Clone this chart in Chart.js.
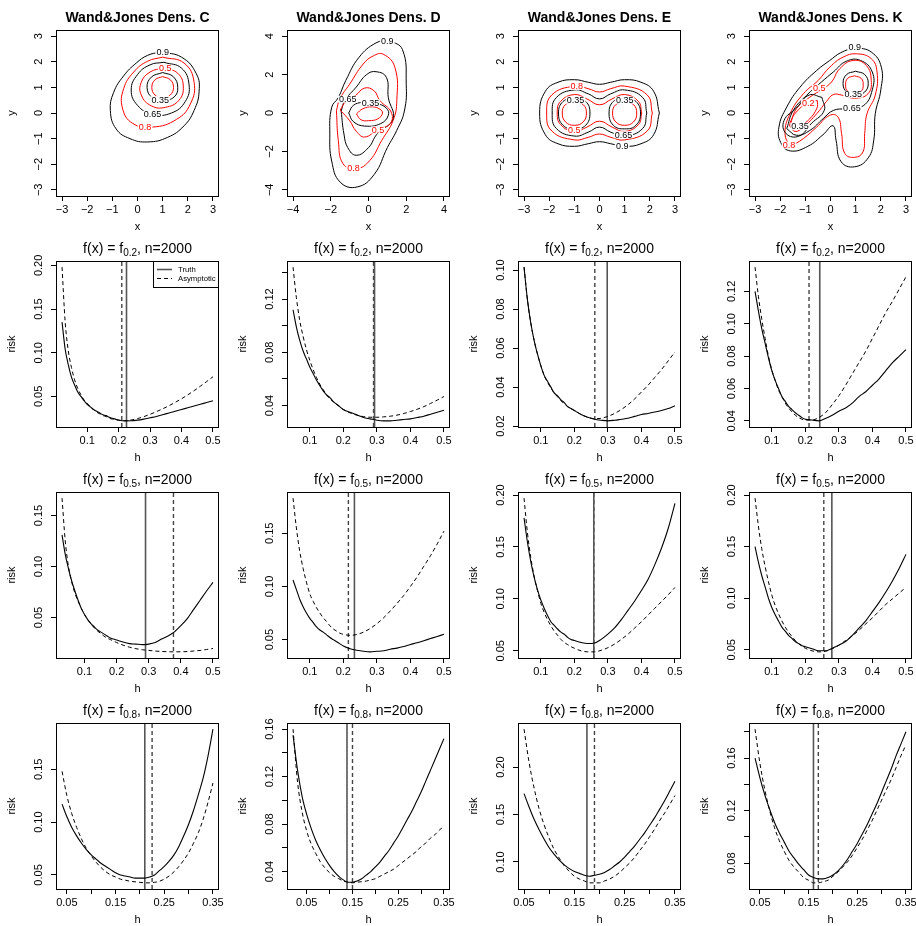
<!DOCTYPE html>
<html>
<head>
<meta charset="utf-8">
<title>Wand&amp;Jones densities: risk against bandwidth</title>
<script src="https://cdn.jsdelivr.net/npm/chart.js@4.4.0/dist/chart.umd.min.js"></script>
<style>
  html, body { margin: 0; padding: 0; background: #fff; }
  #grid { position: relative; width: 916px; height: 926px; overflow: hidden; }
  #grid canvas { position: absolute; }
</style>
</head>
<body>
<div id="grid"></div>
<script>
// ---- contour lines of the four test densities (x, y points) ----
const C_20 = [[1.0,1.42],[1.3,1.3],[1.43,1.0],[1.3,0.7],[1.0,0.58],[0.7,0.7],[0.57,1.0],[0.7,1.3]];
const C_35 = [[1.0,1.58],[1.42,1.42],[1.6,1.0],[1.45,0.62],[1.0,0.5],[0.58,0.6],[0.38,1.0],[0.55,1.4]];
const C_50 = [[1.05,1.76],[1.6,1.55],[1.82,1.05],[1.65,0.5],[1.1,0.22],[0.55,0.28],[0.15,0.7],[0.15,1.2],[0.5,1.6]];
const C_65 = [[1.05,1.98],[1.75,1.75],[2.05,1.1],[1.9,0.45],[1.35,0.0],[0.6,-0.05],[0.0,0.3],[-0.25,0.9],[0.0,1.5],[0.5,1.88]];
const C_80 = [[1.0,2.18],[1.85,1.95],[2.25,1.2],[2.1,0.35],[1.55,-0.25],[0.6,-0.55],[-0.2,-0.4],[-0.6,0.2],[-0.55,0.95],[-0.15,1.6],[0.4,2.02]];
const C_90 = [[0.9,2.38],[1.75,2.18],[2.34,1.53],[2.45,0.85],[2.25,0.1],[1.85,-0.5],[1.2,-0.95],[0.4,-1.13],[-0.3,-1.0],[-0.85,-0.62],[-1.08,0.1],[-0.95,0.8],[-0.55,1.45],[-0.05,1.95],[0.4,2.25]];
const C_labels = [['0.9',1.0,2.38],['0.5',1.1,1.74],['0.35',0.9,0.52],['0.65',0.6,-0.05],['0.8',0.3,-0.53]];

const D_20 = [[-0.64,-0.05],[-0.3,0.22],[0.2,0.32],[0.6,0.2],[0.74,0.0],[0.5,-0.3],[0.0,-0.4],[-0.4,-0.35]];
const D_35 = [[-1.05,0.0],[-0.8,0.4],[-0.3,0.55],[0.4,0.5],[0.95,0.25],[1.05,-0.12],[0.65,-0.55],[-0.2,-0.68],[-0.8,-0.45]];
const D_50 = [[-1.5,0.15],[-1.2,0.6],[-0.7,0.9],[-0.2,1.3],[0.3,1.15],[0.6,0.65],[1.2,0.05],[1.15,-0.55],[0.5,-0.85],[-0.2,-1.25],[-0.65,-0.95],[-1.0,-0.4]];
const D_65 = [[-1.45,0.1],[-1.25,0.65],[-0.65,1.35],[-0.1,2.0],[0.4,2.15],[0.95,1.85],[1.05,0.8],[1.3,-0.3],[0.45,-1.1],[0.0,-1.8],[-0.65,-2.2],[-1.1,-1.8],[-1.3,-1.1]];
const D_80 = [[-1.7,0.12],[-1.52,0.73],[-1.0,1.5],[-0.28,2.55],[0.25,2.97],[0.78,3.06],[1.4,2.37],[1.5,0.64],[1.3,-0.4],[0.7,-1.43],[0.07,-2.47],[-0.64,-2.9],[-1.35,-2.64],[-1.6,-1.43]];
const D_90 = [[1.1,3.8],[1.8,3.3],[2.0,1.5],[1.9,0.1],[1.5,-0.9],[1.0,-1.8],[0.3,-3.2],[-0.6,-3.85],[-1.5,-3.6],[-1.95,-2.5],[-2.05,-1.1],[-1.95,0.3],[-1.6,0.8],[-1.2,1.7],[-0.5,2.9],[0.4,3.65]];
const D_labels = [['0.9',1.0,3.73],['0.8',-0.8,-2.88],['0.65',-1.1,0.72],['0.35',0.1,0.53],['0.5',0.5,-0.88]];

const E_20a = [[1.0,0.45],[1.35,0.33],[1.48,0.0],[1.35,-0.35],[1.0,-0.48],[0.65,-0.35],[0.52,0.0],[0.65,0.33]];
const E_20b = [[-1.0,0.45],[-1.35,0.33],[-1.48,0.0],[-1.35,-0.35],[-1.0,-0.48],[-0.65,-0.35],[-0.52,0.0],[-0.65,0.33]];
const E_35a = [[1.0,0.58],[1.45,0.45],[1.63,0.0],[1.45,-0.48],[1.0,-0.62],[0.55,-0.48],[0.38,0.0],[0.55,0.45]];
const E_35b = [[-1.0,0.58],[-1.45,0.45],[-1.63,0.0],[-1.45,-0.48],[-1.0,-0.62],[-0.55,-0.48],[-0.38,0.0],[-0.55,0.45]];
const E_50 = [[1.68,0.0],[1.55,0.45],[1.0,0.72],[0.5,0.55],[0.0,0.32],[-0.5,0.55],[-1.0,0.72],[-1.55,0.45],[-1.68,0.0],[-1.55,-0.45],[-1.0,-0.72],[-0.5,-0.55],[0.0,-0.32],[0.5,-0.55],[1.0,-0.72],[1.55,-0.45]];
const E_65 = [[1.88,0.0],[1.72,0.6],[1.0,0.9],[0.45,0.75],[0.0,0.55],[-0.45,0.75],[-1.0,0.9],[-1.72,0.6],[-1.88,0.0],[-1.72,-0.6],[-1.0,-0.9],[-0.45,-0.75],[0.0,-0.55],[0.45,-0.75],[1.0,-0.9],[1.72,-0.6]];
const E_80 = [[2.1,0.0],[1.9,0.7],[1.0,1.05],[0.45,0.95],[0.0,0.82],[-0.45,0.95],[-1.0,1.05],[-1.9,0.7],[-2.1,0.0],[-1.9,-0.7],[-1.0,-1.05],[-0.45,-0.95],[0.0,-0.82],[0.45,-0.95],[1.0,-1.05],[1.9,-0.7]];
const E_90 = [[2.38,0.0],[2.15,0.85],[1.65,1.2],[1.0,1.3],[0.45,1.2],[0.0,1.12],[-0.45,1.2],[-1.0,1.3],[-1.65,1.2],[-2.15,0.85],[-2.38,0.0],[-2.15,-0.85],[-1.65,-1.2],[-1.0,-1.3],[-0.45,-1.2],[0.0,-1.12],[0.45,-1.2],[1.0,-1.3],[1.65,-1.2],[2.15,-0.85]];
const E_labels = [['0.8',-0.9,1.04],['0.35',-0.95,0.5],['0.35',1.0,0.5],['0.5',-1.0,-0.68],['0.65',0.95,-0.85],['0.9',0.9,-1.3]];

const K_20a = [[0.95,1.45],[1.22,1.35],[1.3,1.1],[1.22,0.85],[0.95,0.75],[0.68,0.85],[0.6,1.1],[0.68,1.35]];
const K_20b = [[-0.52,0.48],[-0.82,0.47],[-1.25,0.15],[-1.57,-0.29],[-1.58,-0.58],[-1.29,-0.57],[-0.85,-0.25],[-0.54,0.19]];
const K_35a = [[1.0,1.63],[1.36,1.5],[1.5,1.15],[1.36,0.82],[1.0,0.68],[0.64,0.82],[0.5,1.15],[0.64,1.5]];
const K_35b = [[-0.34,0.61],[-0.85,0.7],[-1.35,0.2],[-1.85,-0.3],[-1.76,-0.81],[-1.25,-0.9],[-0.75,-0.4],[-0.25,0.1]];
const K_50 = [[-1.61,-0.48],[-1.35,0.17],[-0.82,0.62],[-0.29,0.95],[0.04,1.21],[0.37,1.73],[0.9,2.05],[1.42,1.86],[1.62,1.27],[1.49,0.75],[0.96,0.58],[0.44,0.7],[0.11,0.72],[-0.16,0.45],[-0.55,-0.03],[-1.08,-0.55],[-1.41,-0.72]];
const K_65 = [[-1.74,-0.61],[-1.48,0.1],[-0.95,0.69],[-0.36,1.21],[0.11,1.6],[0.63,2.02],[1.2,2.05],[1.66,1.6],[1.66,0.9],[1.3,0.28],[0.63,0.17],[0.11,0.1],[-0.29,-0.22],[-0.82,-0.68],[-1.35,-0.87]];
const K_80 = [[-1.61,-1.32],[-1.81,-0.8],[-1.61,-0.03],[-1.08,0.75],[-0.49,1.27],[-0.03,1.79],[0.5,2.18],[1.03,2.31],[1.62,2.12],[1.85,1.6],[1.78,0.7],[1.45,-0.03],[1.36,-0.8],[1.29,-1.52],[0.96,-1.73],[0.57,-1.58],[0.44,-0.8],[0.3,-0.16],[-0.03,-0.09],[-0.55,-0.55],[-1.08,-1.0]];
const K_90 = [[0.96,2.57],[1.62,2.38],[2.02,1.79],[2.0,0.9],[1.78,-0.03],[1.72,-1.06],[1.5,-1.75],[0.96,-2.1],[0.42,-1.9],[0.22,-1.06],[0.1,-0.5],[-0.3,-0.85],[-0.9,-1.3],[-1.6,-1.48],[-1.98,-1.15],[-2.05,-0.55],[-1.74,0.23],[-1.21,1.01],[-0.55,1.66],[-0.03,2.05],[0.4,2.35]];
const K_labels = [['0.9',0.96,2.57],['0.5',-0.45,0.97],['0.2',-0.88,0.4],['0.35',0.9,0.73],['0.35',-1.21,-0.52],['0.65',0.85,0.18],['0.8',-1.65,-1.25]];

// ---- bandwidth grids ----
const hGridA = [0.05,0.06,0.07,0.08,0.09,0.10,0.11,0.12,0.13,0.14,0.15,0.16,0.17,0.18,0.19,0.20,
                0.22,0.24,0.26,0.28,0.30,0.32,0.34,0.36,0.38,0.40,0.42,0.44,0.46,0.48,0.50];
const hGridB = [0.04,0.05,0.06,0.07,0.08,0.09,0.10,0.11,0.12,0.13,0.14,0.15,0.16,0.17,0.18,0.19,
                0.20,0.21,0.22,0.23,0.24,0.25,0.26,0.27,0.28,0.29,0.30,0.31,0.32,0.33,0.34,0.35];
const h_C02 = [0.02,0.03,0.04].concat(hGridA);
const h_C05 = [0.03,0.04].concat(hGridA);
const h_D08 = [0.02,0.03].concat(hGridB);
const h_E08 = hGridB.slice(1);

// ---- risk curves: truth (simulated) and asymptotic ----
const truth_C02 = [0.135,0.104,0.086, 0.072,0.063,0.055,0.050,0.045,0.041,0.038,0.035,0.033,0.031,0.029,0.028,0.026,0.025,0.024,0.023,
                   0.022,0.0221,0.0228,0.024,0.0255,0.027,0.029,0.031,0.033,0.035,0.037,0.039,0.041,0.043,0.045];
const asym_C02  = [0.198,0.135,0.102, 0.083,0.069,0.059,0.052,0.046,0.042,0.038,0.035,0.032,0.030,0.028,0.027,0.025,0.024,0.0232,0.0226,
                   0.0222,0.023,0.0246,0.0268,0.0295,0.0325,0.0358,0.0393,0.0432,0.0473,0.0518,0.0566,0.0617,0.067,0.0725];
const truth_D02 = [0.112,0.099,0.089,0.081,0.075,0.069,0.064,0.059,0.055,0.051,0.048,0.046,0.043,0.041,0.039,0.037,
                   0.035,0.033,0.031,0.030,0.029,0.0285,0.0285,0.029,0.0295,0.030,0.031,0.032,0.0335,0.035,0.0365];
const asym_D02  = [0.144,0.121,0.104,0.092,0.082,0.074,0.067,0.061,0.056,0.052,0.048,0.045,0.043,0.041,0.039,0.037,
                   0.0345,0.0328,0.0317,0.0312,0.0312,0.0315,0.032,0.0328,0.034,0.0355,0.0372,0.0392,0.0416,0.0441,0.0468];
const truth_E02 = [0.1015,0.085,0.073,0.064,0.057,0.051,0.046,0.043,0.040,0.037,0.0355,0.0335,0.032,0.030,0.029,0.028,
                   0.026,0.0245,0.0235,0.023,0.0227,0.023,0.0235,0.024,0.025,0.026,0.0265,0.0272,0.028,0.029,0.0305];
const asym_E02  = [0.1015,0.085,0.073,0.064,0.057,0.051,0.046,0.0425,0.0395,0.037,0.035,0.033,0.0315,0.030,0.029,0.028,
                   0.026,0.0245,0.0238,0.024,0.025,0.0265,0.0285,0.031,0.034,0.0375,0.041,0.045,0.049,0.0535,0.058];
const truth_K02 = [0.120,0.108,0.097,0.088,0.079,0.071,0.065,0.060,0.055,0.052,0.049,0.047,0.045,0.0435,0.042,0.041,
                   0.0405,0.040,0.0415,0.0435,0.046,0.048,0.051,0.055,0.058,0.062,0.066,0.071,0.076,0.080,0.084];
const asym_K02  = [0.135,0.117,0.103,0.091,0.080,0.0715,0.065,0.059,0.055,0.051,0.048,0.0455,0.0435,0.042,0.041,0.0405,
                   0.0405,0.042,0.045,0.050,0.0555,0.062,0.069,0.076,0.083,0.091,0.099,0.107,0.114,0.1215,0.129];

const truth_C05 = [0.131,0.112, 0.098,0.086,0.076,0.067,0.059,0.053,0.048,0.044,0.041,0.038,0.036,0.034,0.032,0.030,0.029,0.028,
                   0.026,0.0245,0.024,0.0235,0.024,0.0255,0.029,0.032,0.036,0.042,0.049,0.058,0.067,0.076,0.0845];
const asym_C05  = [0.167,0.125, 0.100,0.085,0.074,0.066,0.059,0.053,0.048,0.044,0.040,0.037,0.0345,0.032,0.030,0.0285,0.027,0.0255,
                   0.023,0.021,0.0195,0.0185,0.0178,0.0172,0.0168,0.0165,0.0164,0.0165,0.0167,0.0172,0.0178,0.0187,0.0197];
const truth_D05 = [0.106,0.097,0.088,0.081,0.075,0.070,0.066,0.062,0.059,0.057,0.0545,0.052,0.050,0.048,0.046,0.044,
                   0.0415,0.040,0.039,0.0385,0.039,0.0395,0.041,0.042,0.0435,0.0455,0.047,0.049,0.051,0.053,0.055];
const asym_D05  = [0.183,0.155,0.133,0.117,0.104,0.093,0.086,0.080,0.075,0.0705,0.067,0.063,0.060,0.058,0.056,0.055,
                   0.054,0.0548,0.057,0.0605,0.065,0.0705,0.077,0.084,0.0915,0.100,0.109,0.119,0.129,0.140,0.152];
const truth_E05 = [0.178,0.155,0.136,0.121,0.109,0.099,0.091,0.084,0.078,0.0745,0.071,0.068,0.066,0.063,0.061,0.060,
                   0.058,0.057,0.0575,0.061,0.066,0.072,0.080,0.089,0.098,0.108,0.119,0.133,0.149,0.168,0.192];
const asym_E05  = [0.197,0.164,0.140,0.122,0.108,0.096,0.087,0.080,0.074,0.069,0.065,0.061,0.058,0.056,0.054,0.0525,
                   0.050,0.049,0.049,0.0505,0.053,0.0565,0.061,0.066,0.072,0.078,0.0845,0.091,0.0975,0.104,0.111];
const truth_K05 = [0.150,0.135,0.122,0.111,0.100,0.091,0.084,0.078,0.072,0.068,0.064,0.061,0.058,0.056,0.054,0.053,
                   0.051,0.049,0.049,0.0515,0.0545,0.058,0.064,0.071,0.078,0.087,0.096,0.106,0.117,0.129,0.1425];
const asym_K05  = [0.197,0.170,0.148,0.131,0.116,0.103,0.093,0.085,0.078,0.072,0.067,0.063,0.059,0.056,0.0535,0.0515,
                   0.049,0.048,0.0485,0.051,0.0545,0.059,0.0635,0.069,0.075,0.081,0.0875,0.094,0.0995,0.105,0.1105];

const truth_C08 = [0.117,0.105,0.095,0.087,0.080,0.074,0.069,0.065,0.061,0.058,0.055,0.052,0.050,0.049,0.048,0.047,
                   0.047,0.047,0.048,0.050,0.054,0.058,0.063,0.069,0.077,0.087,0.098,0.111,0.126,0.142,0.163,0.188];
const asym_C08  = [0.148,0.125,0.108,0.095,0.084,0.075,0.068,0.062,0.057,0.053,0.050,0.048,0.046,0.045,0.044,0.0435,
                   0.043,0.0425,0.0425,0.043,0.044,0.046,0.049,0.053,0.058,0.064,0.071,0.080,0.090,0.103,0.119,0.137];
const truth_D08 = [0.155,0.125,0.103,0.088,0.076,0.066,0.058,0.051,0.045,0.040,0.036,0.033,0.031,0.031,0.032,0.034,0.037,
                   0.040,0.044,0.048,0.053,0.058,0.064,0.070,0.077,0.084,0.091,0.099,0.107,0.116,0.125,0.134,0.143,0.152];
const asym_D08  = [0.16,0.115,0.090,0.074,0.063,0.055,0.048,0.043,0.039,0.036,0.034,0.032,0.031,0.0305,0.031,0.0315,0.032,
                   0.033,0.034,0.036,0.038,0.040,0.042,0.045,0.048,0.051,0.054,0.057,0.061,0.064,0.068,0.071,0.075,0.078];
const truth_E08 = [0.172,0.158,0.145,0.134,0.124,0.115,0.108,0.102,0.097,0.093,0.090,0.088,0.086,0.085,0.086,0.087,
                   0.089,0.092,0.096,0.100,0.105,0.111,0.117,0.124,0.131,0.139,0.147,0.156,0.165,0.175,0.185];
const asym_E08  = [0.24,0.205,0.178,0.156,0.139,0.125,0.113,0.104,0.096,0.090,0.085,0.082,0.080,0.078,0.078,0.078,
                   0.080,0.082,0.085,0.089,0.094,0.099,0.105,0.112,0.119,0.127,0.135,0.144,0.152,0.161,0.17];
const truth_K08 = [0.16,0.145,0.132,0.121,0.111,0.103,0.096,0.089,0.084,0.079,0.075,0.071,0.069,0.068,0.068,0.069,
                   0.071,0.074,0.078,0.083,0.089,0.095,0.102,0.109,0.117,0.125,0.134,0.143,0.152,0.162,0.171,0.18];
const asym_K08  = [0.182,0.156,0.136,0.120,0.107,0.097,0.089,0.082,0.077,0.073,0.069,0.067,0.065,0.065,0.066,0.067,
                   0.070,0.073,0.077,0.081,0.086,0.092,0.098,0.105,0.112,0.12,0.128,0.136,0.144,0.153,0.162,0.17];

// optimal bandwidths [truth, asymptotic]
const hopt_C02 = [0.225, 0.21],  hopt_D02 = [0.293, 0.29],  hopt_E02 = [0.298, 0.261], hopt_K02 = [0.243, 0.211];
const hopt_C05 = [0.29, 0.377],  hopt_D05 = [0.233, 0.215], hopt_E05 = [0.258, 0.258], hopt_K05 = [0.279, 0.255];
const hopt_C08 = [0.21, 0.225],  hopt_D08 = [0.138, 0.15],  hopt_E08 = [0.175, 0.19],  hopt_K08 = [0.16, 0.17];

// ---- tick values and labels ----
const ticks3 = [-3,-2,-1,0,1,2,3];
const labels3 = ['\u22123','\u22122','\u22121','0','1','2','3'];
const ticks4 = [-4,-2,0,2,4];
const labels4 = ['\u22124','\u22122','0','2','4'];
const hTicksA = [0.1,0.2,0.3,0.4,0.5];
const hLabelsA = ['0.1','0.2','0.3','0.4','0.5'];
const hTicksB = [0.05,0.10,0.15,0.20,0.25,0.30,0.35];
const hLabelsB = ['0.05','','0.15','','0.25','','0.35'];
const rTicks_C02 = [0.05,0.10,0.15,0.20],  rLabels_C02 = ['0.05','0.10','0.15','0.20'];
const rTicks_D02 = [0.04,0.06,0.08,0.10,0.12,0.14], rLabels_D02 = ['0.04','','0.08','','0.12',''];
const rTicks_E02 = [0.02,0.04,0.06,0.08,0.10], rLabels_E02 = ['0.02','0.04','0.06','0.08','0.10'];
const rTicks_K02 = [0.04,0.06,0.08,0.10,0.12], rLabels_K02 = ['0.04','0.06','0.08','0.10','0.12'];
const rTicks_C05 = [0.05,0.10,0.15], rLabels_C05 = ['0.05','0.10','0.15'];
const rTicks_D05 = [0.05,0.10,0.15], rLabels_D05 = ['0.05','0.10','0.15'];
const rTicks_E05 = [0.05,0.10,0.15,0.20], rLabels_E05 = ['0.05','0.10','0.15','0.20'];
const rTicks_K05 = [0.05,0.10,0.15,0.20], rLabels_K05 = ['0.05','0.10','0.15','0.20'];
const rTicks_C08 = [0.05,0.10,0.15], rLabels_C08 = ['0.05','0.10','0.15'];
const rTicks_D08 = [0.04,0.06,0.08,0.10,0.12,0.14,0.16], rLabels_D08 = ['0.04','','0.08','','0.12','','0.16'];
const rTicks_E08 = [0.10,0.15,0.20], rLabels_E08 = ['0.10','0.15','0.20'];
const rTicks_K08 = [0.08,0.10,0.12,0.14,0.16,0.18], rLabels_K08 = ['0.08','','0.12','','0.16',''];

// ---------------------------------------------------------------------------
const FONT = "'Liberation Sans', Arial, Helvetica, sans-serif";
const AXIS_PX = 11;
const CELL = 231;
const BOX = { left: 56, right: 219, top: 30, bottom: 196 };
const RED_LEVELS = ['0.2', '0.5', '0.8'];
const grid = document.getElementById('grid');

Chart.defaults.font.family = FONT;
Chart.defaults.color = '#000';

const measureCtx = document.createElement('canvas').getContext('2d');
function textWidth(s, size) {
    measureCtx.font = size + 'px ' + FONT;
    return measureCtx.measureText(s).width;
}

// R style axis range: data range widened by 4% each side
function ext(values) {
    const lo = Math.min(...values), hi = Math.max(...values);
    const d = (hi - lo) * 0.04;
    return [lo - d, hi + d];
}

// box round the plot region
const framePlugin = {
    id: 'frame',
    afterDraw(chart) {
        const { ctx, chartArea: a } = chart;
        ctx.save();
        ctx.strokeStyle = '#000';
        ctx.lineWidth = 1;
        ctx.strokeRect(Math.round(a.left) + 0.5, Math.round(a.top) + 0.5,
            Math.round(a.right - a.left) - 1, Math.round(a.bottom - a.top));
        ctx.restore();
    }
};

// panel title, with an optional subscript
const titlePlugin = {
    id: 'panelTitle',
    afterDraw(chart, args, o) {
        if (!o || !o.text) return;
        const { ctx, chartArea: a } = chart;
        const cx = (a.left + a.right) / 2, y = 22;
        ctx.save();
        ctx.fillStyle = '#000';
        ctx.textBaseline = 'alphabetic';
        if (o.bold) {
            ctx.font = 'bold 14px ' + FONT;
            ctx.textAlign = 'center';
            ctx.fillText(o.text, cx, y);
        } else {
            const big = '14px ' + FONT, small = '10px ' + FONT;
            ctx.font = big;
            const w1 = ctx.measureText(o.text).width, w3 = ctx.measureText(o.tail).width;
            ctx.font = small;
            const w2 = ctx.measureText(o.sub).width;
            let x = cx - (w1 + w2 + w3) / 2;
            ctx.textAlign = 'left';
            ctx.font = big; ctx.fillText(o.text, x, y); x += w1;
            ctx.font = small; ctx.fillText(o.sub, x, y + 3); x += w2;
            ctx.font = big; ctx.fillText(o.tail, x, y);
        }
        ctx.restore();
    }
};

// small boxed legend in the top right corner
const legendPlugin = {
    id: 'riskLegend',
    afterDraw(chart, args, o) {
        if (!o || !o.show) return;
        const { ctx, chartArea: a } = chart;
        const w = 66, h = 26, x0 = Math.round(a.right) - w, y0 = Math.round(a.top);
        ctx.save();
        ctx.fillStyle = '#fff';
        ctx.fillRect(x0, y0, w, h);
        ctx.strokeStyle = '#000';
        ctx.lineWidth = 1;
        ctx.strokeRect(x0 + 0.5, y0 + 0.5, w - 1, h);
        ctx.font = '7.7px ' + FONT;
        ctx.textBaseline = 'middle';
        ctx.fillStyle = '#000';
        [['Truth', [], '#555', 1.6], ['Asymptotic', [4, 3], '#000', 1]].forEach((it, i) => {
            const yy = y0 + 8.5 + i * 9;
            ctx.beginPath();
            ctx.setLineDash(it[1]);
            ctx.strokeStyle = it[2];
            ctx.lineWidth = it[3];
            ctx.moveTo(x0 + 4, yy);
            ctx.lineTo(x0 + 19, yy);
            ctx.stroke();
            ctx.fillText(it[0], x0 + 25, yy);
        });
        ctx.restore();
    }
};

// contour level labels sitting in a gap of the line
const contourLabelPlugin = {
    id: 'contourLabels',
    afterDatasetsDraw(chart, args, o) {
        if (!o || !o.items) return;
        const { ctx, scales: { x, y } } = chart;
        ctx.save();
        ctx.font = '9px ' + FONT;
        ctx.textAlign = 'center';
        ctx.textBaseline = 'middle';
        o.items.forEach(([t, vx, vy]) => {
            const px = x.getPixelForValue(vx), py = y.getPixelForValue(vy);
            const w = ctx.measureText(t).width + 2;
            ctx.fillStyle = '#fff';
            ctx.fillRect(px - w / 2, py - 3.5, w, 7);
            ctx.fillStyle = RED_LEVELS.includes(t) ? '#ff0000' : '#000';
            ctx.fillText(t, px, py + 0.5);
        });
        ctx.restore();
    }
};

Chart.register(framePlugin, titlePlugin, legendPlugin, contourLabelPlugin);

function axisX(range, ticks, labels, title) {
    return {
        type: 'linear', position: 'bottom', min: range[0], max: range[1],
        afterFit: s => { s.height = CELL - BOX.bottom; },
        afterBuildTicks: s => { s.ticks = ticks.map(v => ({ value: v })); },
        ticks: {
            autoSkip: false, minRotation: 0, maxRotation: 0, padding: 2, color: '#000',
            font: { family: FONT, size: AXIS_PX }, callback: (v, i) => labels[i]
        },
        grid: { drawOnChartArea: false, drawTicks: true, tickLength: 5, color: '#000', lineWidth: 1 },
        border: { display: false },
        title: {
            display: true, text: title, color: '#000',
            font: { family: FONT, size: AXIS_PX, lineHeight: 1.2 }, padding: { top: 0, bottom: -3 }
        }
    };
}

function axisY(range, ticks, labels, title) {
    const widest = Math.max(...labels.map(s => textWidth(s, AXIS_PX)));
    return {
        type: 'linear', position: 'left', min: range[0], max: range[1],
        afterFit: s => { s.width = BOX.left; },
        afterBuildTicks: s => { s.ticks = ticks.map(v => ({ value: v })); },
        ticks: {
            autoSkip: false, minRotation: 90, maxRotation: 90, crossAlign: 'center',
            padding: BOX.left - 5 - 38.5 - widest / 2, color: '#000',
            font: { family: FONT, size: AXIS_PX }, callback: (v, i) => labels[i]
        },
        grid: { drawOnChartArea: false, drawTicks: true, tickLength: 5, color: '#000', lineWidth: 1 },
        border: { display: false },
        title: {
            display: true, text: title, color: '#000',
            font: { family: FONT, size: AXIS_PX, lineHeight: 1.2 }, padding: { top: 5, bottom: 0 }
        }
    };
}

function baseOptions(scales, plugins) {
    return {
        responsive: false,
        animation: false,
        devicePixelRatio: 1,
        layout: { padding: { left: 0, right: CELL - BOX.right, top: BOX.top, bottom: 0 } },
        scales: scales,
        elements: { point: { radius: 0, hoverRadius: 0 } },
        plugins: Object.assign({ legend: { display: false }, tooltip: { enabled: false } }, plugins)
    };
}

function makeCanvas(row, col) {
    const c = document.createElement('canvas');
    c.width = CELL;
    c.height = CELL;
    c.style.width = CELL + 'px';
    c.style.height = CELL + 'px';
    c.style.left = (col * CELL) + 'px';
    c.style.top = (row * CELL) + 'px';
    grid.appendChild(c);
    return c.getContext('2d');
}

function contourPanel(col, name, lines, labels, lim, ticks, tickLabels) {
    const datasets = lines.map(([lv, pts]) => ({
        data: pts.concat([pts[0]]).map(p => ({ x: p[0], y: p[1] })),
        showLine: true,
        borderColor: RED_LEVELS.includes(lv) ? '#ff0000' : '#000',
        borderWidth: 1,
        tension: 0.45,
        pointRadius: 0
    }));
    new Chart(makeCanvas(0, col), {
        type: 'scatter',
        data: { datasets: datasets },
        options: baseOptions({
            x: axisX([-lim * 1.08, lim * 1.08], ticks, tickLabels, 'x'),
            y: axisY([-lim * 1.08, lim * 1.08], ticks, tickLabels, 'y')
        }, {
            panelTitle: { text: 'Wand&Jones Dens. ' + name, bold: true },
            contourLabels: { items: labels }
        })
    });
}

function riskPanel(row, col, p) {
    const xr = ext(p.h);
    const yr = ext(p.truth.concat(p.asym));
    const line = (ys) => p.h.map((h, i) => ({ x: h, y: ys[i] }));
    const vline = (v) => [{ x: v, y: yr[0] }, { x: v, y: yr[1] }];
    new Chart(makeCanvas(row, col), {
        type: 'scatter',
        data: {
            datasets: [
                { label: 'Truth', data: line(p.truth), showLine: true, borderColor: '#000', borderWidth: 1.1,
                  cubicInterpolationMode: 'monotone', pointRadius: 0 },
                { label: 'Asymptotic', data: line(p.asym), showLine: true, borderColor: '#000', borderWidth: 1,
                  borderDash: [4, 3], cubicInterpolationMode: 'monotone', pointRadius: 0 },
                { data: vline(p.opt[0]), showLine: true, borderColor: '#555', borderWidth: 1.6, pointRadius: 0 },
                { data: vline(p.opt[1]), showLine: true, borderColor: '#444', borderWidth: 1.4,
                  borderDash: [4, 3], pointRadius: 0 }
            ]
        },
        options: baseOptions({
            x: axisX(xr, p.xt, p.xl, 'h'),
            y: axisY(yr, p.yt, p.yl, 'risk')
        }, {
            panelTitle: { text: 'f(x) = f', sub: p.sub, tail: ', n=2000' },
            riskLegend: { show: !!p.legend }
        })
    });
}

// ---- top row: contour plots ----
contourPanel(0, 'C', [['0.2', C_20], ['0.35', C_35], ['0.5', C_50], ['0.65', C_65], ['0.8', C_80], ['0.9', C_90]],
    C_labels, 3, ticks3, labels3);
contourPanel(1, 'D', [['0.2', D_20], ['0.35', D_35], ['0.5', D_50], ['0.65', D_65], ['0.8', D_80], ['0.9', D_90]],
    D_labels, 4, ticks4, labels4);
contourPanel(2, 'E', [['0.2', E_20a], ['0.2', E_20b], ['0.35', E_35a], ['0.35', E_35b], ['0.5', E_50],
    ['0.65', E_65], ['0.8', E_80], ['0.9', E_90]], E_labels, 3, ticks3, labels3);
contourPanel(3, 'K', [['0.2', K_20a], ['0.2', K_20b], ['0.35', K_35a], ['0.35', K_35b], ['0.5', K_50],
    ['0.65', K_65], ['0.8', K_80], ['0.9', K_90]], K_labels, 3, ticks3, labels3);

// ---- risk curves ----
riskPanel(1, 0, { h: h_C02, truth: truth_C02, asym: asym_C02, opt: hopt_C02, sub: '0.2', xt: hTicksA, xl: hLabelsA, yt: rTicks_C02, yl: rLabels_C02, legend: true });
riskPanel(1, 1, { h: hGridA, truth: truth_D02, asym: asym_D02, opt: hopt_D02, sub: '0.2', xt: hTicksA, xl: hLabelsA, yt: rTicks_D02, yl: rLabels_D02 });
riskPanel(1, 2, { h: hGridA, truth: truth_E02, asym: asym_E02, opt: hopt_E02, sub: '0.2', xt: hTicksA, xl: hLabelsA, yt: rTicks_E02, yl: rLabels_E02 });
riskPanel(1, 3, { h: hGridA, truth: truth_K02, asym: asym_K02, opt: hopt_K02, sub: '0.2', xt: hTicksA, xl: hLabelsA, yt: rTicks_K02, yl: rLabels_K02 });

riskPanel(2, 0, { h: h_C05, truth: truth_C05, asym: asym_C05, opt: hopt_C05, sub: '0.5', xt: hTicksA, xl: hLabelsA, yt: rTicks_C05, yl: rLabels_C05 });
riskPanel(2, 1, { h: hGridA, truth: truth_D05, asym: asym_D05, opt: hopt_D05, sub: '0.5', xt: hTicksA, xl: hLabelsA, yt: rTicks_D05, yl: rLabels_D05 });
riskPanel(2, 2, { h: hGridA, truth: truth_E05, asym: asym_E05, opt: hopt_E05, sub: '0.5', xt: hTicksA, xl: hLabelsA, yt: rTicks_E05, yl: rLabels_E05 });
riskPanel(2, 3, { h: hGridA, truth: truth_K05, asym: asym_K05, opt: hopt_K05, sub: '0.5', xt: hTicksA, xl: hLabelsA, yt: rTicks_K05, yl: rLabels_K05 });

riskPanel(3, 0, { h: hGridB, truth: truth_C08, asym: asym_C08, opt: hopt_C08, sub: '0.8', xt: hTicksB, xl: hLabelsB, yt: rTicks_C08, yl: rLabels_C08 });
riskPanel(3, 1, { h: h_D08, truth: truth_D08, asym: asym_D08, opt: hopt_D08, sub: '0.8', xt: hTicksB, xl: hLabelsB, yt: rTicks_D08, yl: rLabels_D08 });
riskPanel(3, 2, { h: h_E08, truth: truth_E08, asym: asym_E08, opt: hopt_E08, sub: '0.8', xt: hTicksB, xl: hLabelsB, yt: rTicks_E08, yl: rLabels_E08 });
riskPanel(3, 3, { h: hGridB, truth: truth_K08, asym: asym_K08, opt: hopt_K08, sub: '0.8', xt: hTicksB, xl: hLabelsB, yt: rTicks_K08, yl: rLabels_K08 });
</script>
</body>
</html>
